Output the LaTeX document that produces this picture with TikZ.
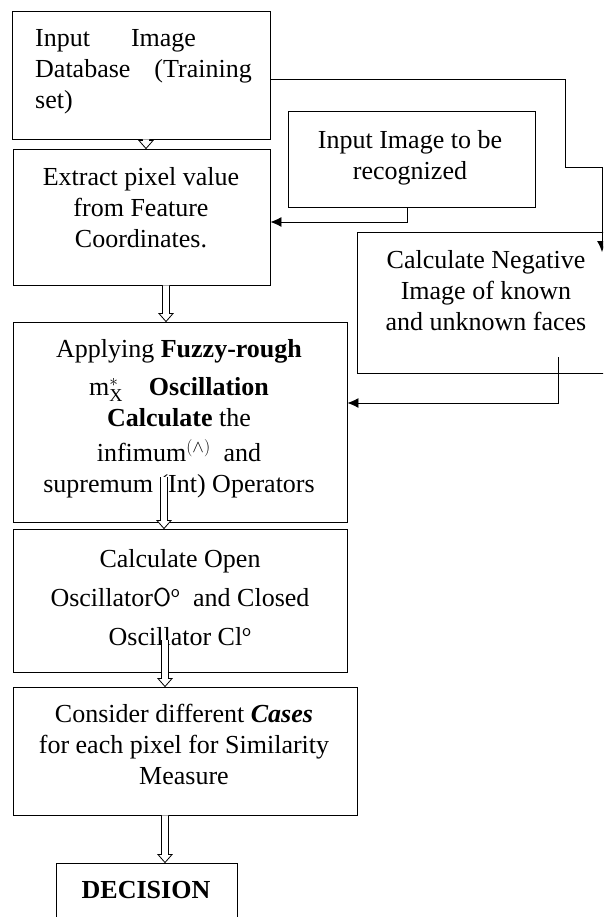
\documentclass[tikz,border=0pt]{standalone}
\usepackage{fontspec}
\setmainfont{Liberation Serif}
\usetikzlibrary{arrows.meta,calc}
\begin{document}
\begin{tikzpicture}[x=1pt,y=-1pt,
  box/.style={draw, line width=0.9pt, inner sep=0pt},
  txt/.style={font=\fontsize{26}{31}\selectfont, align=center, inner sep=0pt, anchor=north},
  conn/.style={line width=0.9pt, -{Latex[length=11pt,width=10pt]}},
  hollow/.style={draw, fill=white, line width=0.8pt, line join=miter,
    to path={let \p1=(\tikztostart), \p2=(\tikztotarget) in
      (\x1-3.5pt,\y1) -- (\x1-3.5pt,\y2+8pt) -- (\x1-7pt,\y2+8pt) -- (\x2,\y2)
      -- (\x1+7pt,\y2+8pt) -- (\x1+3.5pt,\y2+8pt) -- (\x1+3.5pt,\y1)}}
]
\useasboundingbox (0,0) rectangle (603,917);
\clip (0,0) rectangle (603,917);

% boxes
\node[box, minimum width=258pt, minimum height=128pt] (b1) at (141,75) {};
\node[box, minimum width=257pt, minimum height=136pt] (b2) at (141.5,217) {};
\node[box, minimum width=247pt, minimum height=96pt] (rec) at (411.5,159) {};
\node[box, minimum width=283pt, minimum height=141pt] (neg) at (498.5,302.5) {};
\node[box, minimum width=334pt, minimum height=200pt] (fuz) at (180,422) {};
\node[box, minimum width=334pt, minimum height=143pt] (open) at (180,600.5) {};
\node[box, minimum width=344pt, minimum height=128pt] (cons) at (185,751) {};
\node[box, minimum width=181pt, minimum height=87pt] (dec) at (146.5,906.5) {};

% texts
\node[txt, anchor=north west, align=left] (t1) at (35,29)
  {Input\hspace{41pt}Image\\ Database\hspace{24pt}(Training\\ set)};
\node[txt] (t2) at (141,167) {Extract pixel value\\ from Feature\\ Coordinates.};
\node[txt] (trec) at (410,130) {Input Image to be\\ recognized};
\node[txt] (tneg) at (486,250) {Calculate Negative\\ Image of known\\ and unknown faces};
\node[txt] (tfz) at (179,339) {Applying \textbf{Fuzzy-rough}\\[7pt]
  $\mathrm{m}^{*}_{\mathrm{X}}$\quad\textbf{Oscillation}\\
  \textbf{Calculate} the\\[4pt]
  infimum$^{(\wedge)}$\ \ and\\
  supremum (Int) Operators};
\node[txt] (top) at (180,549) {Calculate Open\\[8pt]
  Oscillator{\sffamily O}\textsuperscript{\sffamily o}\ \ and Closed\\[8pt]
  Oscillator Cl\textsuperscript{\sffamily o}};
\node[txt] (tcons) at (184,704) {Consider different \textit{\textbf{Cases}}\\ for each pixel for Similarity\\ Measure};
\node[txt] (tdec) at (146,881) {\textbf{DECISION}};

% connectors
\coordinate (k1) at (565,167);
\coordinate (t1e) at (602,252);
\draw[conn] ([yshift=-4pt]b1.east) -| (k1) -| (t1e);
\draw[conn] ([xshift=-4.5pt]rec.south) |- ([yshift=-5pt]b2.east);
\coordinate (n1) at (558,357);
\draw[conn] (n1) |- ([yshift=19pt]fuz.east);

% hollow double arrows
\path[hollow] ([xshift=5pt]b1.south) to ([xshift=5pt]b1.south |- b2.north);
\path[hollow] ([xshift=24.5pt]b2.south) to ([xshift=24.5pt]b2.south |- fuz.north);
\coordinate (f1) at (164,477);
\path[hollow] (f1) to (f1 |- open.north);
\coordinate (o1) at (165,640);
\path[hollow] (o1) to (o1 |- cons.north);
\path[hollow] ([xshift=-20pt]cons.south) to ([xshift=-20pt]cons.south |- dec.north);
\end{tikzpicture}
\end{document}
